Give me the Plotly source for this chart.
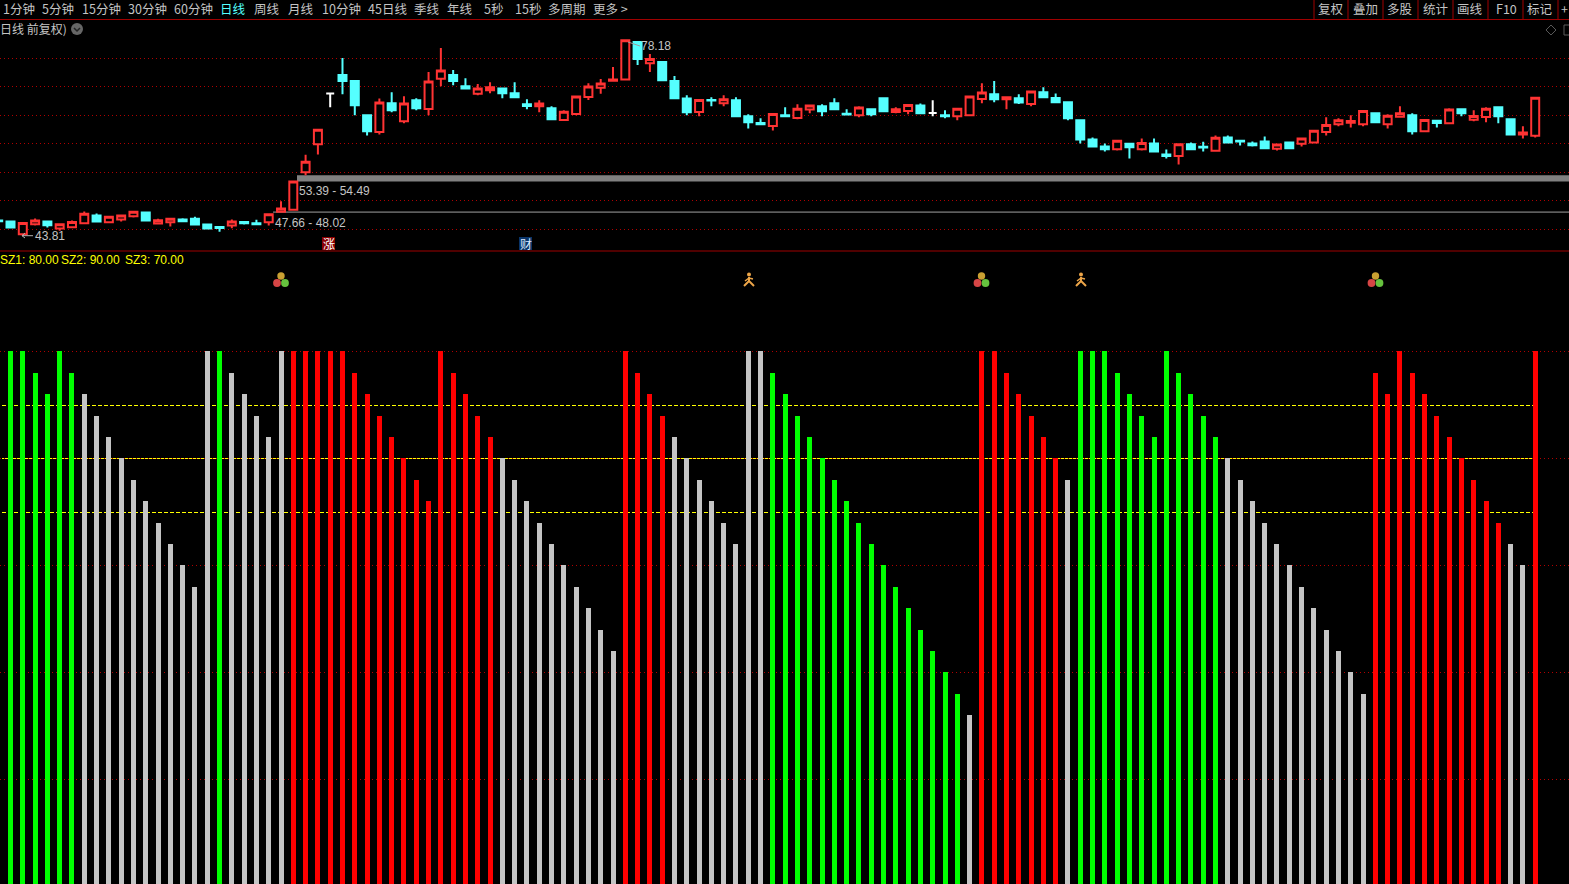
import math
import plotly.graph_objects as go

W, H = 1569, 884

# ---------- price panel data (index -1 .. 124) ----------
opens = [46.54,46.36,44.11,45.89,46.36,45.12,45.36,46.07,47.43,46.24,46.72,47.31,47.96,46.01,46.24,46.72,46.84,45.83,45.41,45.65,46.30,46.07,46.24,48.08,48.43,55.0,59.94,68.82,72.05,71.0,65.0,62.06,67.11,63.94,67.64,66.12,71.41,72.05,70.11,68.76,69.41,69.70,68.88,66.94,66.59,66.23,64.18,65.23,68.23,69.82,71.05,71.29,77.88,74.11,74.35,71.0,67.94,65.59,67.70,67.11,67.64,64.82,63.65,63.12,65.0,64.53,66.0,66.59,67.11,65.29,65.0,66.06,68.0,65.59,65.76,66.70,65.41,65.0,64.82,65.0,67.88,68.70,67.82,68.0,67.0,69.06,68.05,67.29,64.12,60.76,59.53,59.06,60.0,59.06,60.06,58.12,57.88,59.94,59.47,58.76,61.12,60.53,60.06,60.41,59.12,60.24,60.0,60.24,62.06,63.41,63.7,63.41,65.35,63.41,64.76,65.0,62.18,64.06,63.59,66.06,64.24,64.70,66.41,64.29,61.65,61.41]
highs = [46.66,46.54,46.12,46.89,46.36,45.89,46.54,48.14,47.78,47.19,47.60,48.08,47.96,46.84,46.84,46.95,47.19,46.01,45.41,46.72,46.30,46.66,47.66,49.91,53.39,58.08,62.47,68.82,75.05,71.0,65.0,67.94,69.06,68.35,68.0,72.58,76.82,72.94,71.52,70.47,70.82,69.70,70.82,67.82,67.64,66.59,65.88,68.29,70.64,71.35,73.47,78.18,77.88,75.76,74.35,71.88,68.53,67.70,68.17,68.53,68.17,65.17,64.47,65.23,66.41,66.94,66.70,66.94,68.0,66.06,66.59,66.23,68.0,66.41,66.82,67.06,67.64,65.88,66.17,68.47,70.64,71.0,68.17,68.70,69.17,69.94,68.82,67.47,64.12,61.12,60.06,60.53,60.0,60.94,60.94,59.0,59.94,60.24,60.35,61.47,61.47,60.53,60.41,61.29,59.88,60.41,61.12,62.29,64.65,64.47,65.0,65.76,65.53,65.17,66.59,65.35,64.18,64.06,66.24,66.24,65.88,66.41,66.59,64.47,63.06,68.06]
lows = [46.3,45.30,43.81,45.65,45.30,44.76,45.30,46.07,46.36,46.07,46.36,47.07,46.54,45.83,45.47,46.42,45.71,45.00,44.59,45.18,45.83,45.89,45.65,48.02,48.43,54.49,58.12,66.41,68.70,65.0,61.47,61.65,65.53,63.59,65.88,65.0,70.11,70.29,69.58,68.53,68.88,68.0,68.17,66.06,65.53,64.12,64.18,65.0,67.70,68.76,71.05,71.29,73.82,72.58,71.0,68.0,65.0,64.82,66.59,66.59,64.82,62.70,63.41,62.35,64.82,64.29,65.35,64.82,65.88,65.0,64.65,64.82,65.70,65.35,65.17,65.29,64.82,64.47,64.12,64.82,67.11,67.29,66.06,67.0,66.59,68.0,67.11,64.12,60.06,59.35,58.65,58.82,57.41,58.82,58.65,57.41,56.35,58.88,58.65,58.76,60.06,59.71,59.53,59.24,58.82,59.24,59.53,60.06,61.47,63.06,62.88,63.06,63.59,62.70,64.76,61.65,62.18,62.88,63.41,64.82,63.94,63.76,63.59,61.65,60.94,61.12]
closes = [46.42,45.30,46.12,46.54,45.71,45.89,46.30,47.72,46.36,47.19,47.43,48.08,46.54,46.60,46.84,46.42,45.83,45.12,45.24,46.36,46.07,45.89,47.66,48.67,53.39,56.84,62.47,68.82,71.0,66.76,62.18,67.23,65.88,67.06,66.23,70.94,72.88,71.0,69.70,69.70,69.94,68.88,68.17,66.64,67.06,64.29,65.64,68.29,70.06,70.58,71.29,78.17,74.88,74.88,71.17,68.0,65.53,67.70,67.59,67.82,64.82,63.76,63.41,65.23,64.82,66.17,66.70,65.70,66.06,65.12,66.35,65.17,65.70,66.06,66.82,65.35,65.41,64.82,66.17,68.29,69.0,67.82,68.17,67.23,69.17,68.17,67.29,64.47,60.76,59.53,59.06,60.53,59.41,60.12,58.65,57.88,59.94,59.06,59.35,61.06,60.24,60.41,59.76,59.24,59.88,59.24,60.94,62.29,63.29,64.12,64.0,65.76,63.76,64.94,65.35,62.18,64.18,63.65,66.0,65.35,64.88,66.17,64.82,61.65,62.0,68.06]
candle_index = list(range(-1, 125))
white_candles = [26, 75]
price_grid = [45, 50, 55, 60, 65, 70, 75]
gap_band = (53.39, 54.49)
gap_line = 48.02

# ---------- indicator panel data (index 0 .. 124) ----------
bar_values = [100,100,96,92,100,96,92,88,84,80,76,72,68,64,60,56,100,100,96,92,88,84,100,100,100,100,100,100,96,92,88,84,80,76,72,100,96,92,88,84,80,76,72,68,64,60,56,52,48,44,100,96,92,88,84,80,76,72,68,64,100,100,96,92,88,84,80,76,72,68,64,60,56,52,48,44,40,36,32,100,100,96,92,88,84,80,76,100,100,100,96,92,88,84,100,96,92,88,84,80,76,72,68,64,60,56,52,48,44,40,36,96,92,100,96,92,88,84,80,76,72,68,64,60,100]
bar_groups = "GGGGGG" + "NNNNNNNNNN" + "NG" + "NNNN" + "N" + "RRRRRRRRRRRRRRRRR" + "NNNNNNNNNN" + "RRRR" + "NNNNNN" + "NN" + "GGGGGGGGGGGGGGGG" + "N" + "RR" + "RRRRR" + "N" + "GGGGGGGGGGGG" + "NNNNNNNNNNNN" + "RRRRRRRRRRR" + "NN" + "R"
group_colors = {"G": "#00ff00", "R": "#ff0000", "N": "#c4c4c4"}
indicator_grid = [20, 40, 60, 80, 100]
SZ1, SZ2, SZ3 = 80.0, 90.0, 70.0
bar_index = list(range(125))

left_tabs = ["1分钟","5分钟","15分钟","30分钟","60分钟","日线","周线","月线","10分钟","45日线","季线","年线","5秒","15秒","多周期","更多 >"]
left_tab_x = [19,58,101,147,193,233,267,301,341,387,427,460,494,528,567,610]
right_tabs = ["复权","叠加","多股","统计","画线","F10","标记","+"]
right_tab_x = [1331,1365,1400,1435,1470,1506,1540,1564]
right_seps = [1314,1348,1383,1418,1453,1488,1523,1558]

BG = "#000000"
RED = "#ff3333"
CYAN = "#55ffff"
GRID = "#b00000"
SEP = "#a00000"
TXT = "#c4c4c4"
YEL = "#ffff00"
NUM_FONT = "Liberation Sans, sans-serif"
CJK_FONT = "Noto Sans CJK SC, sans-serif"

def px(x): return x / W
def py(y): return 1 - y / H

STEP = 12.296
X0 = 10.5
x_range = [-X0 / STEP, (W - X0) / STEP]

PT_TOP, PT_BOT = 20, 251
ppu = 171.0 / 30
y1_range = [75 - (PT_BOT - 58.3) / ppu, 75 + (58.3 - PT_TOP) / ppu]
ipu = 5.35
Y80 = 458.4
y2_range = [80 - (H - Y80) / ipu, 80 + (Y80 - PT_BOT) / ipu]

def level_row(v):
    return math.floor(Y80 + (80 - v) * ipu + 0.1) + 0.5

fig = go.Figure()

keep = [k for k, i in enumerate(candle_index) if i not in white_candles]
fig.add_trace(go.Candlestick(
    x=[candle_index[k] for k in keep],
    open=[opens[k] for k in keep], high=[highs[k] for k in keep],
    low=[lows[k] for k in keep], close=[closes[k] for k in keep],
    increasing=dict(line=dict(color=RED, width=2), fillcolor=BG),
    decreasing=dict(line=dict(color=CYAN, width=2), fillcolor=CYAN),
    whiskerwidth=0, xaxis="x", yaxis="y", showlegend=False, hoverinfo="skip"))
wk = [k for k, i in enumerate(candle_index) if i in white_candles]
fig.add_trace(go.Candlestick(
    x=[candle_index[k] for k in wk],
    open=[opens[k] for k in wk], high=[highs[k] for k in wk],
    low=[lows[k] for k in wk], close=[closes[k] for k in wk],
    increasing=dict(line=dict(color="#ffffff", width=2), fillcolor="#ffffff"),
    decreasing=dict(line=dict(color="#ffffff", width=2), fillcolor="#ffffff"),
    whiskerwidth=0, xaxis="x", yaxis="y", showlegend=False, hoverinfo="skip"))

fig.add_trace(go.Bar(
    x=bar_index, y=bar_values, width=5.0 / STEP,
    marker=dict(color=[group_colors[g] for g in bar_groups], line=dict(width=0)),
    xaxis="x", yaxis="y2", showlegend=False, hoverinfo="skip"))

shapes = []
# gap band and line
shapes.append(dict(type="rect", xref="paper", yref="y", x0=px(297), x1=1, y0=gap_band[0], y1=gap_band[1],
                   fillcolor="#808080", line=dict(width=0), layer="below"))
shapes.append(dict(type="line", xref="paper", yref="y", x0=px(273), x1=1, y0=gap_line, y1=gap_line,
                   line=dict(color="#a0a0a0", width=1), layer="below"))
# SZ lines
for v, dash in ((SZ1, "solid"), (SZ2, "4px,2px"), (SZ3, "4px,2px")):
    r = level_row(v)
    shapes.append(dict(type="line", xref="paper", yref="paper", x0=px(2), x1=px(1533), y0=py(r), y1=py(r),
                       line=dict(color=YEL, width=1, dash=dash), layer="below"))
# frame lines
shapes.append(dict(type="line", xref="paper", yref="paper", x0=0, x1=1, y0=py(19.5), y1=py(19.5), line=dict(color=SEP, width=1)))
shapes.append(dict(type="line", xref="paper", yref="paper", x0=0, x1=1, y0=py(251), y1=py(251), line=dict(color=SEP, width=1)))
for sx in right_seps:
    shapes.append(dict(type="line", xref="paper", yref="paper", x0=px(sx), x1=px(sx), y0=py(0), y1=py(19.5), line=dict(color=SEP, width=1)))

def circle(cx, cy, r, color):
    return dict(type="circle", xref="paper", yref="paper", x0=px(cx - r), x1=px(cx + r), y0=py(cy + r), y1=py(cy - r),
                fillcolor=color, line=dict(width=0))

def path(points, color, width=1, fill=None):
    d = "M " + " L ".join(f"{px(a):.5f} {py(b):.5f}" for a, b in points)
    s = dict(type="path", xref="paper", yref="paper", path=d, line=dict(color=color, width=width))
    if fill:
        s["path"] = d + " Z"
        s["fillcolor"] = fill
    return s

# balls
for cx in (281, 981.5, 1375.5):
    shapes += [circle(cx, 276, 3.7, "#c9a032"), circle(cx - 4, 283, 3.9, "#d64545"), circle(cx + 4, 283, 3.9, "#66c23e")]
# runner
for cx in (749, 1081):
    shapes.append(circle(cx, 274.5, 2.0, "#eda548"))
    shapes.append(path([(cx, 277), (cx, 281), (cx - 5, 286)], "#eda548", 2))
    shapes.append(path([(cx, 281), (cx + 5, 286)], "#eda548", 2))
    shapes.append(path([(cx - 4, 281), (cx, 278), (cx + 4, 279)], "#eda548", 1.5))
# header icons
shapes.append(circle(77, 29, 6, "#666666"))
shapes.append(path([(74, 28), (77, 31), (80, 28)], "#222222", 1.5))
shapes.append(path([(1551, 25), (1556, 30), (1551, 35), (1546, 30)], "#5a5a5a", 1, fill="rgba(0,0,0,0)"))
shapes.append(dict(type="rect", xref="paper", yref="paper", x0=px(1564), x1=px(1575), y0=py(35), y1=py(25),
                   line=dict(color="#5a5a5a", width=1)))
# badges
shapes.append(dict(type="rect", xref="paper", yref="paper", x0=px(322), x1=px(335), y0=py(250), y1=py(237), fillcolor="#8b0000", line=dict(width=0)))
shapes.append(dict(type="rect", xref="paper", yref="paper", x0=px(519), x1=px(532), y0=py(250), y1=py(237), fillcolor="#0a3468", line=dict(width=0)))
# leaders
shapes.append(path([(628, 42), (640, 46)], "#9a9a9a", 1))
shapes.append(path([(22, 235.7), (33, 235.7)], "#b0b0b0", 1))
shapes.append(path([(25, 233), (22, 235.7), (25, 238)], "#b0b0b0", 1))

ann = []
def text(x, y, s, color=TXT, size=12.5, font=CJK_FONT, anchor="center"):
    ann.append(dict(x=px(x), y=py(y), xref="paper", yref="paper", text=s, showarrow=False,
                    xanchor=anchor, yanchor="middle", borderpad=0, borderwidth=0,
                    font=dict(family=font, size=size, color=color)))

for s, x in zip(left_tabs, left_tab_x):
    text(x, 9, s, color=CYAN if s == "日线" else TXT)
for s, x in zip(right_tabs, right_tab_x):
    text(x, 9, s)
text(0, 29, "日线 前复权)", size=12, anchor="left")
text(641, 46, "78.18", size=12, font=NUM_FONT, anchor="left")
text(35, 236, "43.81", size=12, font=NUM_FONT, anchor="left")
text(299, 190.5, "53.39 - 54.49", size=12, font=NUM_FONT, anchor="left")
text(275, 222.5, "47.66 - 48.02", size=12, font=NUM_FONT, anchor="left")
text(328.5, 243.5, "涨", color="#ffffff", size=12)
text(525.5, 243.5, "财", color="#dfe8ff", size=12)
text(0, 259.5, f"SZ1: {SZ1:.2f}", size=12, color=YEL, font=NUM_FONT, anchor="left")
text(61, 259.5, f"SZ2: {SZ2:.2f}", size=12, color=YEL, font=NUM_FONT, anchor="left")
text(125, 259.5, f"SZ3: {SZ3:.2f}", size=12, color=YEL, font=NUM_FONT, anchor="left")

fig.update_layout(
    width=W, height=H, autosize=False,
    margin=dict(l=0, r=0, t=0, b=0, pad=0),
    paper_bgcolor=BG, plot_bgcolor=BG,
    showlegend=False, boxmode="overlay", boxgap=0.35, boxgroupgap=0, bargap=0,
    xaxis=dict(range=x_range, domain=[0, 1], anchor="y2", visible=True, showgrid=False, zeroline=False,
               showticklabels=False, ticks="", showline=False, rangeslider=dict(visible=False), fixedrange=True),
    yaxis=dict(range=y1_range, domain=[1 - PT_BOT / H, 1 - PT_TOP / H], anchor="x", tickmode="array", tickvals=price_grid,
               showticklabels=False, ticks="", zeroline=False, showline=False,
               showgrid=True, gridcolor=GRID, griddash="1px,3px", gridwidth=1, fixedrange=True),
    yaxis2=dict(range=y2_range, domain=[0, 1 - PT_BOT / H], anchor="x", tickmode="array", tickvals=indicator_grid,
                showticklabels=False, ticks="", zeroline=False, showline=False,
                showgrid=True, gridcolor=GRID, griddash="1px,3px", gridwidth=1, fixedrange=True),
    shapes=shapes, annotations=ann,
)

fig.write_html("out.html", config=dict(displayModeBar=False, responsive=False),
               post_script="document.body.style.margin='0';document.body.style.background='#000';document.body.style.overflow='hidden';")
